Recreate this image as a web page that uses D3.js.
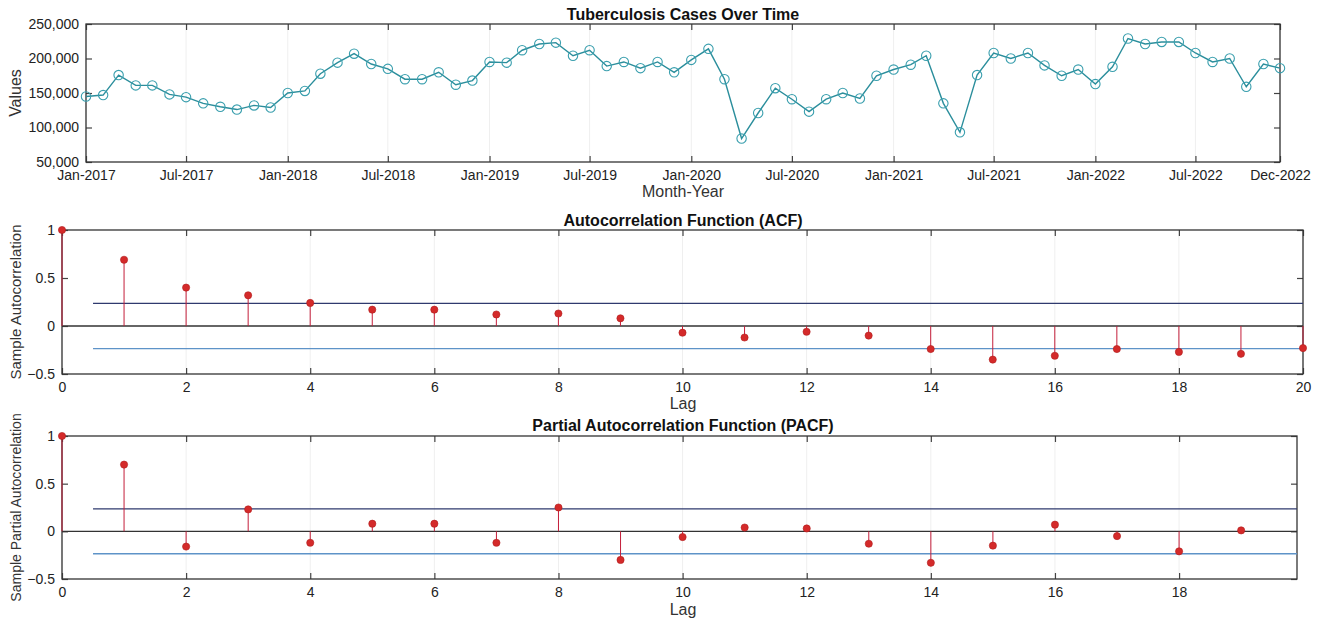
<!DOCTYPE html>
<html>
<head>
<meta charset="utf-8">
<script src="https://cdn.jsdelivr.net/npm/d3@7"></script>
<style>
  body { margin: 0; background: #fff; }
  svg { display: block; font-family: "Liberation Sans", Arial, sans-serif; }
</style>
</head>
<body>
<div id="chart"></div>
<script>
// monthly tuberculosis cases, Jan-2017 .. Dec-2022
const startMonth = '2017-01';
const cases = [
  145000, 147000, 176000, 161000, 161000, 148000, 144000, 135000, 130000, 126000, 132000, 129000,
  150000, 153000, 178000, 194000, 207000, 192000, 185000, 170000, 170000, 180000, 162000, 168000,
  195000, 194000, 212000, 221000, 223000, 204000, 212000, 189000, 195000, 186000, 195000, 180000,
  198000, 214000, 170000, 84000, 121000, 157000, 141000, 123000, 141000, 150000, 142000, 175000,
  184000, 191000, 204000, 135000, 93000, 176000, 208000, 200000, 208000, 190000, 175000, 184000,
  163000, 188000, 229000, 221000, 224000, 224000, 208000, 195000, 200000, 159000, 192000, 186000
];
const monthTicks = ['Jan-2017', 'Jul-2017', 'Jan-2018', 'Jul-2018', 'Jan-2019', 'Jul-2019', 'Jan-2020',
  'Jul-2020', 'Jan-2021', 'Jul-2021', 'Jan-2022', 'Jul-2022', 'Dec-2022'];
const valueTicks = [50000, 100000, 150000, 200000, 250000];

const acfLags = d3.range(0, 21);
const acf = [1, 0.69, 0.40, 0.32, 0.24, 0.17, 0.17, 0.12, 0.13, 0.08,
  -0.07, -0.12, -0.06, -0.10, -0.24, -0.35, -0.31, -0.24, -0.27, -0.29, -0.23];
const pacfLags = d3.range(0, 20);
const pacf = [1, 0.70, -0.16, 0.23, -0.12, 0.08, 0.08, -0.12, 0.25, -0.30,
  -0.06, 0.04, 0.03, -0.13, -0.33, -0.15, 0.07, -0.05, -0.21, 0.01];
const confBound = 0.235;
const corrTicks = [-0.5, 0, 0.5, 1];

const width = 1323, height = 621;
const font = '"Liberation Sans", Arial, sans-serif';

const svg = d3.select('#chart').append('svg').attr('width', width).attr('height', height);

const parseMonth = d3.timeParse('%b-%Y');
const firstMonth = d3.timeParse('%Y-%m')(startMonth);
const months = d3.timeMonth.range(firstMonth, d3.timeMonth.offset(firstMonth, cases.length));
const series = months.map((m, i) => ({ date: m, value: cases[i] }));

function frame(g, box, x, y, xTicks, yTicks, xFmt, yFmt) {
  // faint grid
  g.append('g').selectAll('line').data(xTicks).enter().append('line')
    .attr('x1', d => x(d)).attr('x2', d => x(d))
    .attr('y1', box.top).attr('y2', box.bottom)
    .attr('stroke', '#efefef').attr('stroke-width', 1);

  const bottom = g.append('g').attr('transform', `translate(0,${box.bottom})`)
    .call(d3.axisBottom(x).tickValues(xTicks).tickFormat(xFmt).tickSizeInner(-6).tickSizeOuter(0).tickPadding(8));
  const top = g.append('g').attr('transform', `translate(0,${box.top})`)
    .call(d3.axisTop(x).tickValues(xTicks).tickFormat('').tickSizeInner(-6).tickSizeOuter(0));
  const left = g.append('g').attr('transform', `translate(${box.left},0)`)
    .call(d3.axisLeft(y).tickValues(yTicks).tickFormat(yFmt).tickSizeInner(-6).tickSizeOuter(0).tickPadding(7));
  const right = g.append('g').attr('transform', `translate(${box.right},0)`)
    .call(d3.axisRight(y).tickValues(yTicks).tickFormat('').tickSizeInner(-6).tickSizeOuter(0));

  [bottom, top, left, right].forEach(a => {
    a.select('.domain').remove();
    a.selectAll('line').attr('stroke', '#444').attr('stroke-width', 1.2);
    a.selectAll('text').attr('fill', '#222').style('font-size', '14px').style('font-family', font);
  });

  g.append('rect')
    .attr('x', box.left).attr('y', box.top)
    .attr('width', box.right - box.left).attr('height', box.bottom - box.top)
    .attr('fill', 'none').attr('stroke', '#333').attr('stroke-width', 1.3);
}

function labels(g, box, title, xLabel, yLabel, titleY, xLabelY, ySize) {
  const cx = 683;
  g.append('text').attr('x', cx).attr('y', titleY).attr('text-anchor', 'middle')
    .style('font-size', '16px').style('font-weight', 'bold').attr('fill', '#111').text(title);
  g.append('text').attr('x', cx).attr('y', xLabelY).attr('text-anchor', 'middle')
    .style('font-size', '16px').attr('fill', '#333').text(xLabel);
  g.append('text')
    .attr('transform', `translate(21,${(box.top + box.bottom) / 2}) rotate(-90)`)
    .attr('text-anchor', 'middle')
    .style('font-size', ySize + 'px').attr('fill', '#333').text(yLabel);
}

// ---- time series panel
const tsBox = { left: 86, right: 1280, top: 24, bottom: 162 };
const tsX = d3.scaleTime().domain([months[0], months[months.length - 1]]).range([tsBox.left, tsBox.right]);
const tsY = d3.scaleLinear().domain([50000, 250000]).range([tsBox.bottom, tsBox.top]);
const ts = svg.append('g');
const monthFmt = d3.timeFormat('%b-%Y');
frame(ts, tsBox, tsX, tsY, monthTicks.map(parseMonth), valueTicks, d => monthFmt(d), d3.format(','));
labels(ts, tsBox, 'Tuberculosis Cases Over Time', 'Month-Year', 'Values', 20, 197, 16);

ts.append('path').datum(series)
  .attr('fill', 'none').attr('stroke', '#2b8e9c').attr('stroke-width', 1.4)
  .attr('d', d3.line().x(d => tsX(d.date)).y(d => tsY(d.value)));
ts.selectAll('circle').data(series).enter().append('circle')
  .attr('cx', d => tsX(d.date)).attr('cy', d => tsY(d.value)).attr('r', 4.7)
  .attr('fill', 'none').attr('stroke', '#3a9fae').attr('stroke-width', 1.1);

// ---- stem panels
function stemPanel(box, lags, vals, xMax, xTicks, title, yLabel, titleY, xLabelY, ySize) {
  const g = svg.append('g');
  const x = d3.scaleLinear().domain([0, xMax]).range([box.left, box.right]);
  const y = d3.scaleLinear().domain([-0.5, 1]).range([box.bottom, box.top]);
  frame(g, box, x, y, xTicks, corrTicks, d3.format('d'), d => d3.format('')(d));
  labels(g, box, title, 'Lag', yLabel, titleY, xLabelY, ySize);

  g.append('line').attr('x1', box.left).attr('x2', box.right)
    .attr('y1', y(0)).attr('y2', y(0)).attr('stroke', '#333').attr('stroke-width', 1.3);
  g.append('line').attr('x1', x(0.5)).attr('x2', box.right)
    .attr('y1', y(confBound)).attr('y2', y(confBound)).attr('stroke', '#2f3a6e').attr('stroke-width', 1.3);
  g.append('line').attr('x1', x(0.5)).attr('x2', box.right)
    .attr('y1', y(-confBound)).attr('y2', y(-confBound)).attr('stroke', '#5e93c8').attr('stroke-width', 1.3);

  const pts = lags.map((l, i) => ({ lag: l, v: vals[i] }));
  g.append('g').selectAll('line').data(pts).enter().append('line')
    .attr('x1', d => x(d.lag)).attr('x2', d => x(d.lag))
    .attr('y1', y(0)).attr('y2', d => y(d.v))
    .attr('stroke', '#c41e3a').attr('stroke-width', 1);
  g.append('g').selectAll('circle').data(pts).enter().append('circle')
    .attr('cx', d => x(d.lag)).attr('cy', d => y(d.v)).attr('r', 3.6)
    .attr('fill', '#d42a2a').attr('stroke', '#b01c1c').attr('stroke-width', 0.6);
}

stemPanel({ left: 62, right: 1303, top: 230, bottom: 374 }, acfLags, acf, 20, d3.range(0, 21, 2),
  'Autocorrelation Function (ACF)', 'Sample Autocorrelation', 226, 409, 15);
stemPanel({ left: 62, right: 1297, top: 436, bottom: 579 }, pacfLags, pacf, 19.9, d3.range(0, 19, 2),
  'Partial Autocorrelation Function (PACF)', 'Sample Partial Autocorrelation', 431, 615, 14);
</script>
</body>
</html>
